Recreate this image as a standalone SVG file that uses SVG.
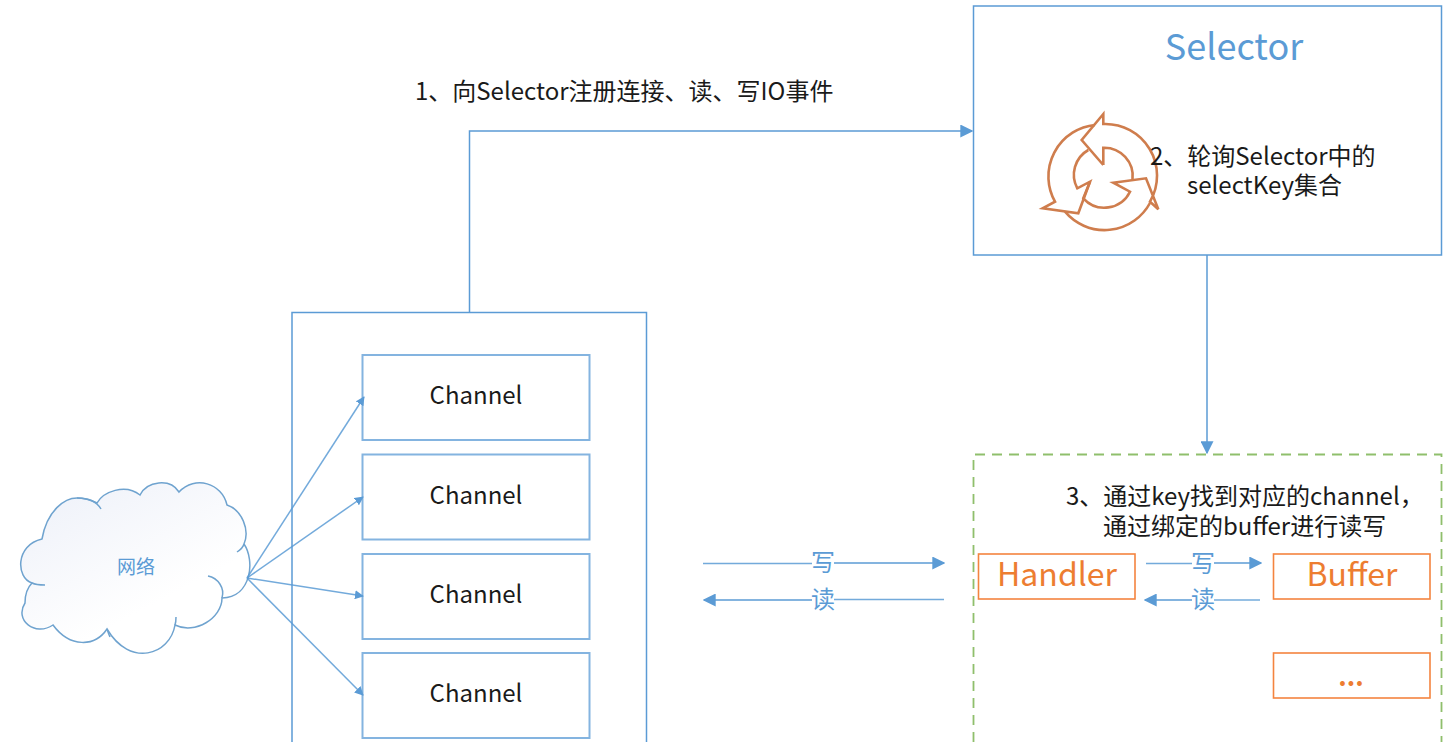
<svg xmlns="http://www.w3.org/2000/svg" width="1448" height="742" viewBox="0 0 1448 742">
<style>
text{font-family:"Noto Sans CJK SC","Noto Sans",sans-serif}
.blue{fill:none;stroke:#5b9bd5;stroke-width:1.5}
.ch{fill:#fff;stroke:#5b9bd5;stroke-width:2;stroke-opacity:.75}
.or{fill:#fff;stroke:#f4843f;stroke-width:1.6}
.ct{font-size:24px;fill:#1a1a1a;text-anchor:middle}
.lb{font-size:24px;fill:#1a1a1a}
.ort{font-size:32px;fill:#ed7d31;text-anchor:middle}
.bt{font-size:24px;fill:#5b9bd5;text-anchor:middle}
.ic{fill:none;stroke:#cf7d4d;stroke-width:2.600;stroke-linejoin:miter}
.cn{fill:none;stroke:#5b9bd5;stroke-width:1.5;stroke-opacity:.85}
</style>
<defs>
<marker id="a" viewBox="0 0 10 10" refX="9" refY="5" markerWidth="9" markerHeight="9" markerUnits="userSpaceOnUse" orient="auto"><path d="M0 0L10 5L0 10z" fill="#5b9bd5"/></marker>
<marker id="b" viewBox="0 0 10 10" refX="9" refY="5" markerWidth="13" markerHeight="13" markerUnits="userSpaceOnUse" orient="auto"><path d="M0 0L10 5L0 10z" fill="#5b9bd5"/></marker>
<linearGradient id="g" x1="0.1" y1="0" x2="0.6" y2="0.7"><stop offset="0" stop-color="#eef1f9"/><stop offset="1" stop-color="#fff"/></linearGradient>
</defs>
<rect width="1448" height="742" fill="#fff"/>

<g id="selector">
<rect x="973.5" y="6" width="468" height="249" fill="#fff" stroke="#5b9bd5" stroke-width="1.500"/>
<text x="1234" y="60" font-size="36" fill="#5b9bd5" text-anchor="middle">Selector</text>
<g class="ic">
<path d="M1103.300 165L1081.700 140L1103.300 114V124A51.700 51.700 0 0 1 1150 201.700L1158.300 209.300L1146 178.300L1113.300 182.700L1130 191.700A28.500 28.500 0 0 1 1083.300 198.300L1090 181.700L1077.300 188.300A28.500 28.500 0 0 1 1088.300 150"/>
<path d="M1103.300 165V147.700A28.500 28.500 0 0 1 1132.500 179.500"/>
<path d="M1090 181.700L1078.300 213.300L1042.700 208.300L1055 201.700A51.700 51.700 0 0 1 1095 125"/>
<path d="M1065 211.700A51.700 51.700 0 0 0 1150 203"/>
</g>
<text class="lb"><tspan x="1150" y="165">2、轮询Selector中的</tspan><tspan x="1187" y="194">selectKey集合</tspan></text>
</g>

<g id="channels">
<path d="M292 742V312.500H646.500V742" fill="#fff" stroke="#5b9bd5" stroke-width="1.500"/>
</g>
<g id="channel-1"><rect class="ch" x="362.500" y="355" width="227" height="85"/><text class="ct" x="476" y="404">Channel</text></g>
<g id="channel-2"><rect class="ch" x="362.500" y="454.500" width="227" height="85"/><text class="ct" x="476" y="504">Channel</text></g>
<g id="channel-3"><rect class="ch" x="362.500" y="554" width="227" height="85"/><text class="ct" x="476" y="603">Channel</text></g>
<g id="channel-4"><rect class="ch" x="362.500" y="653" width="227" height="85"/><text class="ct" x="476" y="702">Channel</text></g>

<g id="network">
<path d="M42 539C47 510 65 498 77 498C88 498 95 502 97 503C103 492 125 483 140 495C147 481 170 478 179 492C195 475 222 483 227 505C242 510 250 530 244 544C255 560 252 597 222 598C222 618 195 635 175 625C170 655 130 668 107 629C95 647 70 648 53 625C35 637 14 620 25 603C25 595 28 587 32 583C16 578 15 545 42 539Z" fill="url(#g)" stroke="#6fa3cf" stroke-width="1.500"/>
<g fill="none" stroke="#6fa3cf" stroke-width="1.500">
<path d="M77 498C88 498 97 502 101 509"/><path d="M32 583C36 585 40 585 45 585"/><path d="M107 629C108 632 109 635 110 637"/><path d="M175 625C176 622 176 620 176 617"/><path d="M222 598C225 588 218 578 208 576"/><path d="M244 544C243 548 240 550 237 552"/>
</g>
<text x="136" y="574" font-size="19" fill="#5b9bd5" text-anchor="middle">网络</text>
</g>

<g id="processor">
<path d="M973.500 742V454.500H1441.500V742" fill="none" stroke="#8fbf6c" stroke-width="1.800" stroke-dasharray="10 7"/>
<text class="lb"><tspan x="1066" y="505">3、通过key找到对应的channel，</tspan><tspan x="1103" y="535">通过绑定的buffer进行读写</tspan></text>
</g>
<g id="handler"><rect class="or" x="978.500" y="554" width="156.500" height="45"/><text class="ort" x="1057" y="586">Handler</text></g>
<g id="buffer"><rect class="or" x="1273.500" y="554" width="156.500" height="45"/><text class="ort" x="1352" y="586">Buffer</text></g>
<g id="more"><rect class="or" x="1273.500" y="653" width="156.500" height="45"/><text x="1351" y="686" font-size="26" font-weight="700" fill="#ed7d31" text-anchor="middle">...</text></g>

<g id="connectors">
<path class="blue" d="M469.500 312V131H972" marker-end="url(#b)"/>
<path class="blue" d="M1207 255V453" marker-end="url(#b)"/>
<path class="cn" d="M247 578L364 397" marker-end="url(#a)"/>
<path class="cn" d="M247 578L363 497" marker-end="url(#a)"/>
<path class="cn" d="M247 578L363 596" marker-end="url(#a)"/>
<path class="cn" d="M247 578L363 695" marker-end="url(#a)"/>
<path class="cn" d="M703 563.500H812"/><path class="blue" d="M834 563H944" marker-end="url(#b)"/>
<path class="blue" d="M812 600H704" marker-end="url(#b)"/><path class="cn" d="M834 599.500H944"/>
<path class="cn" d="M1146 563.500H1192"/><path class="blue" d="M1214 563H1261" marker-end="url(#b)"/>
<path class="blue" d="M1192 600H1145" marker-end="url(#b)"/><path class="cn" d="M1214 600H1260"/>
<text class="bt" x="823" y="571">写</text>
<text class="bt" x="823" y="608">读</text>
<text class="bt" x="1203" y="572">写</text>
<text class="bt" x="1203" y="608">读</text>
</g>
<text class="lb" x="415" y="100">1、向Selector注册连接、读、写IO事件</text>
</svg>
